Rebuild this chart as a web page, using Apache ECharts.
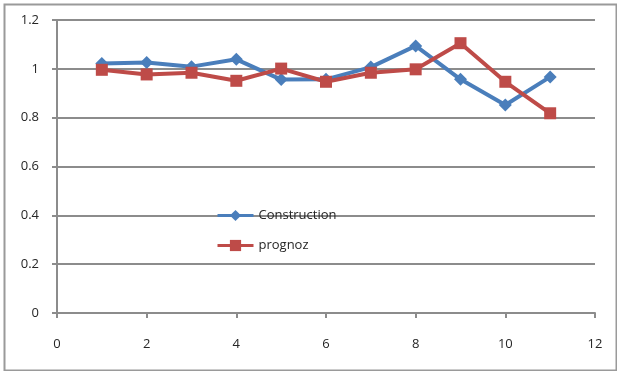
<!DOCTYPE html>
<html>
<head>
<meta charset="utf-8">
<script src="https://cdn.jsdelivr.net/npm/echarts@6/dist/echarts.min.js"></script>
<style>
html,body{margin:0;padding:0;background:#fff;}
#c{width:617px;height:371px;}
</style>
</head>
<body>
<div id="c"></div>
<script>
const xValues = [1, 2, 3, 4, 5, 6, 7, 8, 9, 10, 11];
const construction = [1.022, 1.026, 1.009, 1.039, 0.956, 0.957, 1.007, 1.094, 0.957, 0.852, 0.967];
const prognoz = [0.996, 0.977, 0.984, 0.951, 1.001, 0.947, 0.984, 0.998, 1.105, 0.947, 0.818];
const seriesNames = ['Construction', 'prognoz'];

const pair = (ys) => xValues.map((x, i) => [x, ys[i]]);
const gridColor = '#8c8c8c';
const font = 'Open Sans';

const chart = echarts.init(document.getElementById('c'));
chart.setOption({
  animation: false,
  backgroundColor: '#fff',
  graphic: [{
    type: 'rect', left: 2, top: 2,
    shape: { width: 612, height: 366 },
    style: { fill: 'none', stroke: '#9a9a9a', lineWidth: 2 },
    silent: true
  }],
  grid: { left: 57, right: 22, top: 20, bottom: 58 },
  legend: {
    orient: 'vertical',
    left: 211, top: 204,
    itemWidth: 36, itemHeight: 14, itemGap: 17,
    lineStyle: { width: 3 },
    textStyle: { fontFamily: font, fontSize: 13, color: '#262626' },
    data: seriesNames
  },
  xAxis: {
    type: 'value', min: 0, max: 12, interval: 2,
    axisLine: { show: true, lineStyle: { color: gridColor, width: 2 } },
    axisTick: { show: true, length: 5, lineStyle: { color: gridColor, width: 2 } },
    axisLabel: { fontFamily: font, fontSize: 13, color: '#262626', margin: 25 },
    splitLine: { show: false }
  },
  yAxis: {
    type: 'value', min: 0, max: 1.2, interval: 0.2,
    axisLine: { show: true, lineStyle: { color: gridColor, width: 2 } },
    axisTick: { show: true, length: 5, lineStyle: { color: gridColor, width: 2 } },
    axisLabel: { fontFamily: font, fontSize: 13, color: '#262626', margin: 18,
      formatter: v => String(Math.round(v * 10) / 10) },
    splitLine: { show: true, lineStyle: { color: gridColor, width: 2 } }
  },
  series: [
    {
      name: seriesNames[0], type: 'line', data: pair(construction),
      symbol: 'diamond', symbolSize: [13, 13],
      lineStyle: { color: '#4a7ebb', width: 4 },
      itemStyle: { color: '#4a7ebb' }
    },
    {
      name: seriesNames[1], type: 'line', data: pair(prognoz),
      symbol: 'rect', symbolSize: [12, 12],
      lineStyle: { color: '#be4b48', width: 4 },
      itemStyle: { color: '#be4b48' }
    }
  ]
});
</script>
</body>
</html>
